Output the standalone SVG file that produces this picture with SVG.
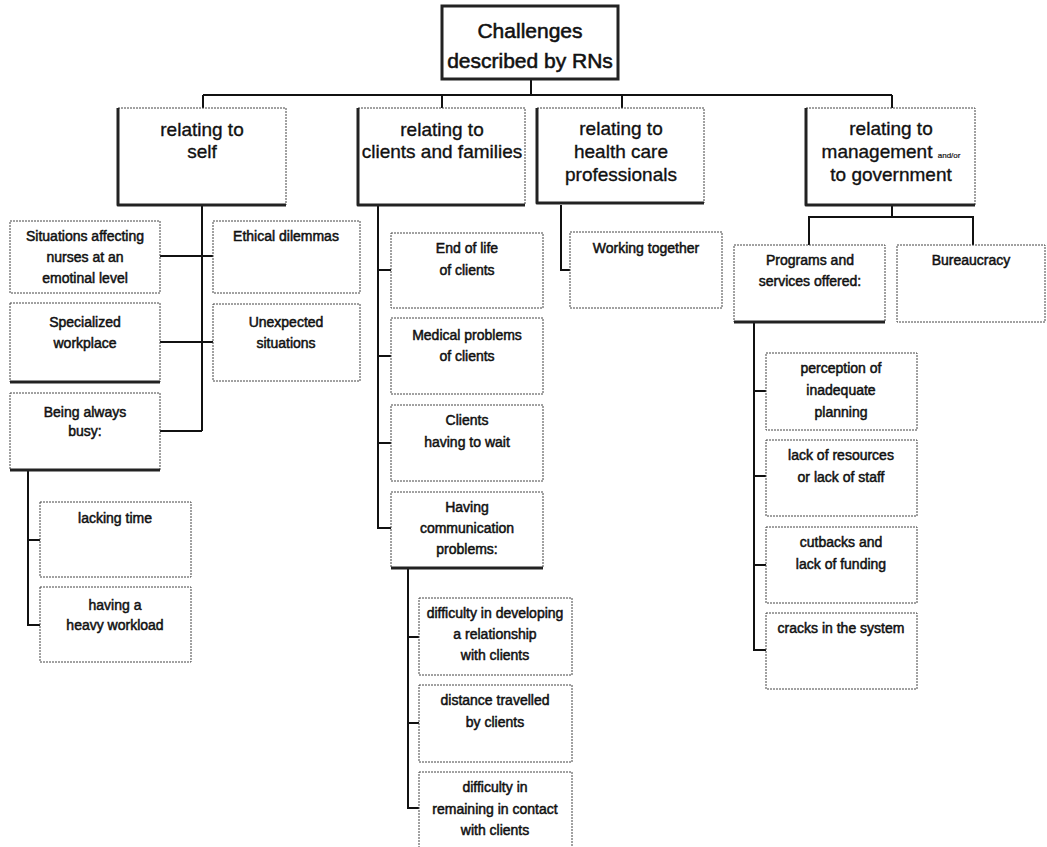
<svg xmlns="http://www.w3.org/2000/svg" width="1047" height="847" viewBox="0 0 1047 847">
  <style>
    .box { fill: #fff; stroke: #444; stroke-width: 1; stroke-dasharray: 2 1; }
    .heavy { fill: none; stroke: #222; stroke-width: 3; stroke-linejoin: round; }
    .conn { fill: none; stroke: #111; stroke-width: 2; }
    text { font-family: "Liberation Sans", Arial, sans-serif; text-anchor: middle; fill: #111; }
    .t { font-size: 14px; stroke: #111; stroke-width: 0.5; }
    .tc { font-size: 19px; stroke: #111; stroke-width: 0.35; }
    .tr { font-size: 21px; stroke: #111; stroke-width: 0.55; }
    .small { font-size: 8px; stroke-width: 0.2; }
  </style>
  <rect width="1047" height="847" fill="#fff"/>

  <!-- connectors -->
  <g id="connectors">
    <path class="conn" d="M531,80 V95 M203,95 H892 M203,95 V108 M442,95 V108 M622,95 V108 M892,95 V108"/>
    <!-- self -->
    <path class="conn" d="M202,205 V431 M160,256 H213 M160,342 H213 M160,431 H202"/>
    <path class="conn" d="M28,470 V625 H40 M28,540 H40"/>
    <!-- clients -->
    <path class="conn" d="M378,205 V528 H391 M378,270 H391 M378,356 H391 M378,443 H391"/>
    <path class="conn" d="M408,568 V808 H419 M408,637 H419 M408,723 H419"/>
    <!-- health care -->
    <path class="conn" d="M561,205 V270 H570"/>
    <!-- management -->
    <path class="conn" d="M892,205 V217 M809,245 V217 H973 V245"/>
    <path class="conn" d="M754,322 V650 H766 M754,391 H766 M754,476 H766 M754,565 H766"/>
  </g>

  <!-- root -->
  <g id="root">
    <rect x="442" y="6" width="176" height="73" fill="#fff" stroke="#222" stroke-width="3"/>
    <text class="tr" x="530" y="38">Challenges</text>
    <text class="tr" x="530" y="68">described by RNs</text>
  </g>

  <!-- categories -->
  <g id="cat-self">
    <rect class="box" x="118" y="108" width="168" height="97"/>
    <path class="heavy" d="M118,108 V205 H286"/>
    <text class="tc" x="202" y="136">relating to</text>
    <text class="tc" x="202" y="158">self</text>
  </g>
  <g id="cat-clients">
    <rect class="box" x="358" y="108" width="167" height="97"/>
    <path class="heavy" d="M358,108 V205 H525"/>
    <text class="tc" x="442" y="136">relating to</text>
    <text class="tc" x="442" y="158">clients and families</text>
  </g>
  <g id="cat-health">
    <rect class="box" x="537" y="108" width="167" height="95"/>
    <path class="heavy" d="M537,108 V203 H704"/>
    <text class="tc" x="621" y="135">relating to</text>
    <text class="tc" x="621" y="158">health care</text>
    <text class="tc" x="621" y="181">professionals</text>
  </g>
  <g id="cat-management">
    <rect class="box" x="806" y="108" width="169" height="97"/>
    <path class="heavy" d="M806,108 V205 H975"/>
    <text class="tc" x="891" y="135">relating to</text>
    <text class="tc" x="891" y="158">management <tspan class="small">and/or</tspan></text>
    <text class="tc" x="891" y="181">to government</text>
  </g>

  <!-- relating to self -->
  <g id="n-situations">
    <rect class="box" x="10" y="221" width="150" height="72"/>
    <text class="t" x="85" y="241">Situations affecting</text>
    <text class="t" x="85" y="262">nurses at an</text>
    <text class="t" x="85" y="283">emotinal level</text>
  </g>
  <g id="n-specialized">
    <rect class="box" x="10" y="303" width="150" height="79"/>
    <path class="heavy" d="M10,382 H160"/>
    <text class="t" x="85" y="327">Specialized</text>
    <text class="t" x="85" y="348">workplace</text>
  </g>
  <g id="n-busy">
    <rect class="box" x="10" y="393" width="150" height="77"/>
    <path class="heavy" d="M10,470 H160"/>
    <text class="t" x="85" y="417">Being always</text>
    <text class="t" x="85" y="436">busy:</text>
  </g>
  <g id="n-ethical">
    <rect class="box" x="213" y="221" width="147" height="72"/>
    <text class="t" x="286" y="241">Ethical dilemmas</text>
  </g>
  <g id="n-unexpected">
    <rect class="box" x="213" y="304" width="147" height="77"/>
    <text class="t" x="286" y="327">Unexpected</text>
    <text class="t" x="286" y="348">situations</text>
  </g>
  <g id="n-lacking-time">
    <rect class="box" x="40" y="502" width="151" height="75"/>
    <text class="t" x="115" y="523">lacking time</text>
  </g>
  <g id="n-workload">
    <rect class="box" x="40" y="587" width="151" height="75"/>
    <text class="t" x="115" y="610">having a</text>
    <text class="t" x="115" y="630">heavy workload</text>
  </g>

  <!-- relating to clients and families -->
  <g id="n-end-of-life">
    <rect class="box" x="391" y="233" width="152" height="75"/>
    <text class="t" x="467" y="253">End of life</text>
    <text class="t" x="467" y="275">of clients</text>
  </g>
  <g id="n-medical">
    <rect class="box" x="391" y="318" width="152" height="76"/>
    <text class="t" x="467" y="340">Medical problems</text>
    <text class="t" x="467" y="361">of clients</text>
  </g>
  <g id="n-waiting">
    <rect class="box" x="391" y="405" width="152" height="76"/>
    <text class="t" x="467" y="425">Clients</text>
    <text class="t" x="467" y="447">having to wait</text>
  </g>
  <g id="n-communication">
    <rect class="box" x="391" y="492" width="152" height="76"/>
    <path class="heavy" d="M391,568 H543"/>
    <text class="t" x="467" y="512">Having</text>
    <text class="t" x="467" y="533">communication</text>
    <text class="t" x="467" y="554">problems:</text>
  </g>
  <g id="n-relationship">
    <rect class="box" x="419" y="598" width="153" height="77"/>
    <text class="t" x="495" y="618">difficulty in developing</text>
    <text class="t" x="495" y="639">a relationship</text>
    <text class="t" x="495" y="660">with clients</text>
  </g>
  <g id="n-distance">
    <rect class="box" x="419" y="685" width="153" height="77"/>
    <text class="t" x="495" y="705">distance travelled</text>
    <text class="t" x="495" y="727">by clients</text>
  </g>
  <g id="n-contact">
    <rect class="box" x="419" y="772" width="153" height="80"/>
    <text class="t" x="495" y="792">difficulty in</text>
    <text class="t" x="495" y="814">remaining in contact</text>
    <text class="t" x="495" y="835">with clients</text>
  </g>

  <!-- relating to health care professionals -->
  <g id="n-working">
    <rect class="box" x="570" y="232" width="152" height="76"/>
    <text class="t" x="646" y="253">Working together</text>
  </g>

  <!-- relating to management and/or government -->
  <g id="n-programs">
    <rect class="box" x="734" y="245" width="151" height="77"/>
    <path class="heavy" d="M734,322 H885"/>
    <text class="t" x="810" y="265">Programs and</text>
    <text class="t" x="810" y="286">services offered:</text>
  </g>
  <g id="n-bureaucracy">
    <rect class="box" x="897" y="245" width="148" height="77"/>
    <text class="t" x="971" y="265">Bureaucracy</text>
  </g>
  <g id="n-planning">
    <rect class="box" x="766" y="353" width="151" height="77"/>
    <text class="t" x="841" y="373">perception of</text>
    <text class="t" x="841" y="395">inadequate</text>
    <text class="t" x="841" y="417">planning</text>
  </g>
  <g id="n-resources">
    <rect class="box" x="766" y="440" width="151" height="76"/>
    <text class="t" x="841" y="460">lack of resources</text>
    <text class="t" x="841" y="482">or lack of staff</text>
  </g>
  <g id="n-funding">
    <rect class="box" x="766" y="527" width="151" height="76"/>
    <text class="t" x="841" y="547">cutbacks and</text>
    <text class="t" x="841" y="569">lack of funding</text>
  </g>
  <g id="n-cracks">
    <rect class="box" x="766" y="613" width="151" height="76"/>
    <text class="t" x="841" y="633">cracks in the system</text>
  </g>
</svg>
